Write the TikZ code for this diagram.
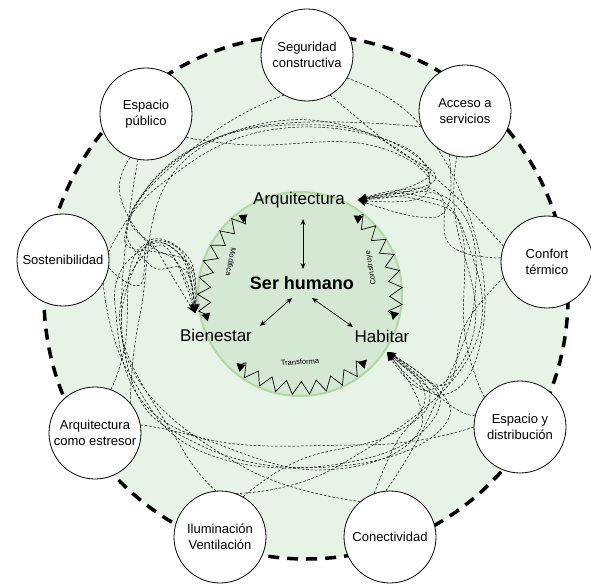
\documentclass[tikz,border=0pt]{standalone}
\usepackage{fontspec}
\setmainfont{Liberation Sans}
\usetikzlibrary{arrows.meta,decorations.pathmorphing}
\pgfdeclarelayer{bg}
\pgfdeclarelayer{mid}
\pgfsetlayers{bg,mid,main}
\definecolor{ringfill}{HTML}{E8F3E7}
\definecolor{innerfill}{HTML}{D5E8D4}
\definecolor{innerdraw}{HTML}{B3D6A5}
\newcommand\cc[1]{\draw[conn] plot[smooth,tension=0.75] coordinates {#1};}
\begin{document}
\begin{tikzpicture}[x=1pt,y=1pt,
  outer/.style={circle,draw,line width=0.8pt,fill=white,minimum size=92pt,inner sep=0pt,align=center,font=\fontsize{13}{16.5}\selectfont},
  big/.style={font=\fontsize{17}{20}\selectfont,inner sep=0pt},
  small/.style={font=\fontsize{7.5}{8}\selectfont,inner sep=0pt},
  conn/.style={line width=0.5pt,dash pattern=on 2.5pt off 1.8pt,-{Stealth[length=9pt,width=7pt]}},
  dbl/.style={line width=0.7pt,{Stealth[length=6pt,width=5pt]}-{Stealth[length=6pt,width=5pt]}},
  zz/.style={line width=0.7pt,decorate,decoration={zigzag,segment length=16pt,amplitude=6.5pt,pre length=3pt,post length=3pt},{Triangle[length=8pt,width=9pt]}-{Triangle[length=8pt,width=9pt]}}]
\useasboundingbox (-300,-291) rectangle (291,295);
\begin{pgfonlayer}{bg}
  \fill[ringfill] (6,-2) circle (262);
  \draw[line width=3.5pt,dash pattern=on 11pt off 8pt] (6,-2) circle (262);
  \draw[innerdraw,fill=innerfill,line width=2pt] (0,1) circle (102);
\end{pgfonlayer}
% outer nodes
\node[outer] (seg) at (7,240) {Seguridad\\constructiva};
\node[outer] (acc) at (165,184) {Acceso a\\servicios};
\node[outer] (con) at (247,33) {Confort\\térmico};
\node[outer] (espd) at (220,-132) {Espacio y\\distribución};
\node[outer] (cnx) at (90,-242) {Conectividad};
\node[outer] (ilu) at (-80,-242) {Iluminación\\Ventilación};
\node[outer] (arqe) at (-205,-138) {Arquitectura\\como estresor};
\node[outer] (sos) at (-237,35) {Sostenibilidad};
\node[outer] (espp) at (-154,181) {Espacio\\público};
% inner texts
\node[font=\bfseries\fontsize{18}{20}\selectfont,inner sep=0pt] (ser) at (2,12) {Ser humano};
\node[big] (arq) at (-1,95) {Arquitectura};
\node[big] (bie) at (-84,-40) {Bienestar};
\node[big] (hab) at (82,-41) {Habitar};
\coordinate (arqT) at (58,95);
\coordinate (bieT) at (-105,-18);
\coordinate (habT) at (87,-57);
\coordinate (serN) at (3,26);
\coordinate (serW) at (-8,-3);
\coordinate (serE) at (12,-3);
\coordinate (arqS) at (3,76);
\coordinate (bieNE) at (-40,-31);
\coordinate (habNW) at (53,-32);
\draw[dbl] (arqS) -- (serN);
\draw[dbl] (serW) -- (bieNE);
\draw[dbl] (serE) -- (habNW);
% zigzag arcs
\draw[zz] (56:96) arc (56:-15:96);
\draw[zz] (123:96) arc (123:196:96);
\draw[zz] (227:93) arc (227:316:93);
\node[small,rotate=100] (lc) at (71,27) {Construye};
\node[small,rotate=-101] (lm) at (-69,33) {Modifica};
\node[small,rotate=4] (lt) at (0,-67) {Transforma};
% connectors
\begin{pgfonlayer}{mid}
% to Arquitectura
\cc{(seg.300) (90,150) (135,115) (arqT)}
\cc{(acc.250) (148,90) (120,78) (arqT)}
\cc{(con.175) (150,50) (140,100) (100,105) (arqT)}
\cc{(espd.140) (165,-40) (160,70) (115,100) (arqT)}
\cc{(cnx.95) (130,-120) (175,0) (150,95) (arqT)}
\cc{(ilu.70) (40,-170) (170,-60) (165,60) (120,95) (arqT)}
\cc{(arqe.40) (-160,-20) (-120,130) (20,170) (130,125) (arqT)}
\cc{(sos.10) (-140,110) (-30,165) (100,150) (125,100) (arqT)}
\cc{(espp.-30) (-50,150) (70,150) (130,110) (arqT)}
% to Bienestar
\cc{(seg.240) (-90,160) (-170,80) (-150,30) (-115,25) (bieT)}
\cc{(acc.200) (-60,165) (-165,90) (-140,40) (bieT)}
\cc{(con.160) (60,165) (-100,150) (-175,60) (-125,35) (bieT)}
\cc{(espd.180) (60,-150) (-130,-130) (-185,-10) (-150,50) (-112,30) (bieT)}
\cc{(cnx.130) (-60,-170) (-170,-70) (-160,40) (-120,40) (bieT)}
\cc{(ilu.95) (-120,-150) (-180,-30) (-140,50) (bieT)}
\cc{(arqe.70) (-175,-50) (-165,40) (-120,45) (bieT)}
\cc{(sos.-10) (-160,10) (-150,55) (-110,35) (bieT)}
\cc{(espp.250) (-180,100) (-150,50) (-110,30) (bieT)}
% to Habitar
\cc{(seg.330) (120,170) (175,60) (180,-50) (140,-100) (habT)}
\cc{(acc.260) (155,80) (175,-30) (130,-95) (habT)}
\cc{(con.200) (165,-30) (145,-90) (habT)}
\cc{(espd.165) (150,-110) (habT)}
\cc{(cnx.110) (95,-150) (125,-100) (habT)}
\cc{(ilu.60) (0,-165) (90,-140) (130,-100) (habT)}
\cc{(arqe.10) (-110,-140) (20,-175) (120,-135) (habT)}
\cc{(sos.-30) (-170,-80) (-90,-160) (60,-165) (140,-110) (habT)}
\cc{(espp.260) (-175,-60) (-100,-150) (50,-170) (150,-120) (habT)}
\end{pgfonlayer}
\end{tikzpicture}
\end{document}
